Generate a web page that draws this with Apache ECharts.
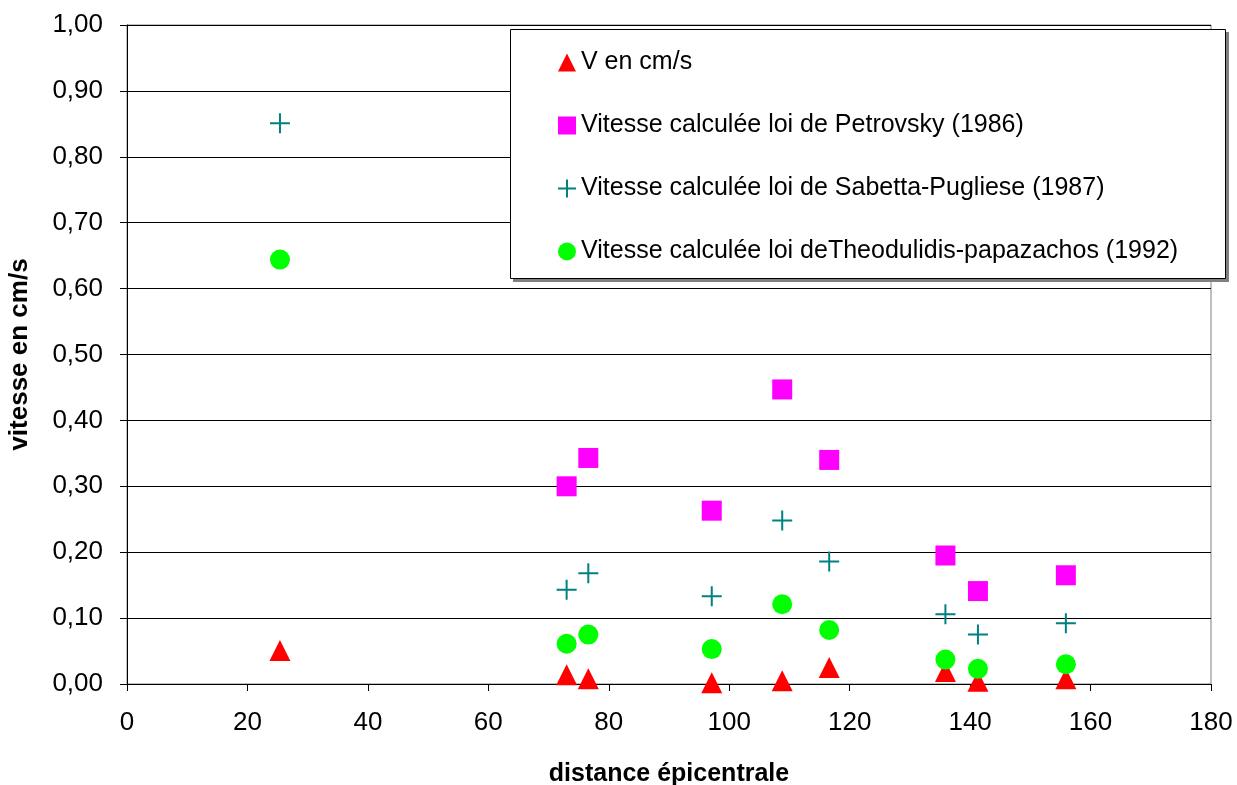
<!DOCTYPE html>
<html>
<head>
<meta charset="utf-8">
<script src="https://cdn.jsdelivr.net/npm/echarts@6/dist/echarts.min.js"></script>
<style>
html,body{margin:0;padding:0;background:#fff;}
#chart{width:1237px;height:785px;}
</style>
</head>
<body>
<div id="chart"></div>
<script>
// ---- data ----
const distances   = [25.4, 73.0, 76.6, 97.1, 108.8, 116.6, 135.9, 141.3, 155.9];
const vMeasured   = [0.051, 0.014, 0.008, 0.002, 0.005, 0.025, 0.019, 0.004, 0.008];
const vPetrovsky  = [null, 0.300, 0.343, 0.263, 0.447, 0.340, 0.195, 0.141, 0.165];
const vSabetta    = [0.851, 0.143, 0.168, 0.133, 0.248, 0.186, 0.106, 0.075, 0.092];
const vTheodulidis= [0.644, 0.061, 0.075, 0.053, 0.121, 0.082, 0.037, 0.023, 0.030];
const seriesNames = [
  'V en cm/s',
  'Vitesse calculée loi de Petrovsky (1986)',
  'Vitesse calculée loi de Sabetta-Pugliese (1987)',
  'Vitesse calculée loi deTheodulidis-papazachos (1992)'
];
const xTicks = {min: 0, max: 180, step: 20};
const yTicks = {min: 0, max: 1, step: 0.1};
const xTitle = 'distance épicentrale';
const yTitle = 'vitesse en cm/s';

function pairs(vals) {
  const out = [];
  vals.forEach((v, i) => { if (v !== null) out.push([distances[i], v]); });
  return out;
}

const FONT = '"Liberation Sans", Arial, sans-serif';
const chart = echarts.init(document.getElementById('chart'), null, {renderer: 'canvas'});
const PLUS = 'path://M0,10L20,10M10,0L10,20';

chart.setOption({
  animation: false,
  backgroundColor: '#ffffff',
  textStyle: {fontFamily: FONT},
  grid: {
    left: 127, right: 26, top: 25, bottom: 101,
    containLabel: false, outerBoundsMode: 'none',
    show: true, borderColor: '#808080', borderWidth: 1, backgroundColor: 'transparent'
  },
  xAxis: {
    type: 'value', min: xTicks.min, max: xTicks.max, interval: xTicks.step,
    name: xTitle, nameLocation: 'middle', nameGap: 78,
    nameTextStyle: {fontSize: 25, fontWeight: 'bold', color: '#000', fontFamily: FONT},
    axisLine: {show: true, onZero: false, lineStyle: {color: '#000', width: 1}},
    axisTick: {show: true, inside: false, length: 7, lineStyle: {color: '#000'}},
    axisLabel: {fontSize: 26, color: '#000', margin: 26, fontFamily: FONT},
    splitLine: {show: false}
  },
  yAxis: {
    type: 'value', min: yTicks.min, max: yTicks.max, interval: yTicks.step,
    name: yTitle, nameLocation: 'middle', nameGap: 94, nameRotate: 90,
    nameTextStyle: {fontSize: 26, fontWeight: 'bold', color: '#000', fontFamily: FONT},
    axisLine: {show: true, lineStyle: {color: '#000', width: 1}},
    axisTick: {show: true, inside: false, length: 7, lineStyle: {color: '#000'}},
    axisLabel: {
      fontSize: 26, color: '#000', margin: 24, fontFamily: FONT,
      formatter: v => v.toFixed(2).replace('.', ',')
    },
    splitLine: {show: true, lineStyle: {color: '#000', width: 1}}
  },
  graphic: [
    {type: 'rect', z: 3, shape: {x: 513, y: 32, width: 716, height: 250}, style: {fill: '#808080'}},
    {type: 'rect', z: 3, shape: {x: 510.5, y: 29.5, width: 715, height: 249}, style: {fill: '#ffffff', stroke: '#000', lineWidth: 1}}
  ],
  legend: {
    z: 5,
    orient: 'vertical',
    left: 552, top: 45, padding: 5,
    itemWidth: 18, itemHeight: 18, itemGap: 38,
    selectedMode: false,
    textStyle: {fontSize: 25, color: '#000', fontFamily: FONT, lineHeight: 24, padding: [0, 0, 0, 0]},
    data: seriesNames
  },
  series: [
    {
      name: seriesNames[0], type: 'scatter', symbol: 'triangle', symbolSize: [21, 21],
      itemStyle: {color: '#ff0000', opacity: 1}, data: pairs(vMeasured), clip: false,
      emphasis: {disabled: true}
    },
    {
      name: seriesNames[1], type: 'scatter', symbol: 'rect', symbolSize: 20,
      itemStyle: {color: '#ff00ff', opacity: 1}, data: pairs(vPetrovsky), clip: false,
      emphasis: {disabled: true}
    },
    {
      name: seriesNames[2], type: 'scatter', symbol: PLUS, symbolSize: 20,
      itemStyle: {color: 'rgba(0,0,0,0)', borderColor: '#008080', borderWidth: 2, opacity: 1},
      data: pairs(vSabetta), clip: false,
      emphasis: {disabled: true}
    },
    {
      name: seriesNames[3], type: 'scatter', symbol: 'circle', symbolSize: 20,
      itemStyle: {color: '#00ff00', opacity: 1}, data: pairs(vTheodulidis), clip: false,
      emphasis: {disabled: true}
    }
  ]
});
</script>
</body>
</html>
